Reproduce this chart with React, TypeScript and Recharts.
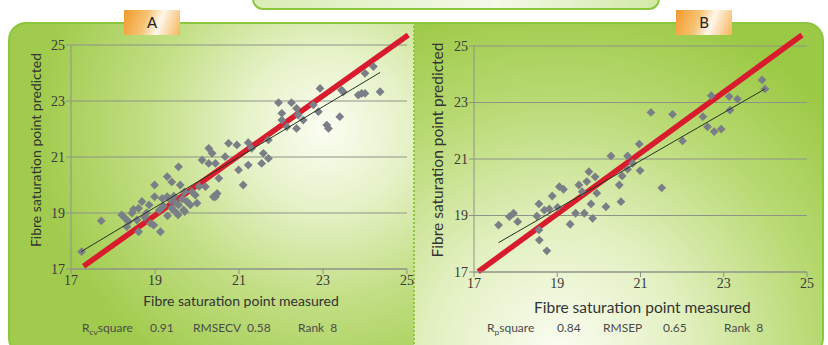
import React from 'react';
import { ReferenceLine, Scatter, ScatterChart, XAxis, YAxis, CartesianGrid } from 'recharts';

const axisTicks = [17, 19, 21, 23, 25];

// panel A: cross validation
const calMeasured = [
  17.25, 17.72, 18.21, 18.29, 18.37, 18.49, 18.57, 18.61, 18.69, 18.61, 18.89, 18.97, 18.86, 18.99, 18.99,
  19.13, 19.17, 19.29, 19.29, 19.36, 19.4, 19.4, 19.48, 19.56, 19.56, 19.6, 19.68, 19.76, 19.84, 19.88,
  19.96, 20.0, 20.12, 20.2, 20.28, 20.36, 20.28, 20.44, 20.48, 20.44, 20.52, 20.67, 20.75, 20.95, 20.99,
  21.1, 21.22, 21.54, 21.58, 21.7, 21.22, 21.3, 21.7, 21.94, 22.02, 22.02, 22.14, 22.25, 22.37, 22.37,
  22.41, 22.53, 22.77, 22.89, 22.93, 23.09, 23.13, 23.4, 23.44, 23.48, 23.84, 23.92, 24.0, 24.0, 24.2,
  24.36, 18.33, 19.55, 19.71, 20.39, 18.8, 19.2, 19.45, 19.65, 19.1, 18.75, 19.3, 19.5, 19.7, 20.05, 18.45,
];
const calPredicted = [
  17.62, 18.72, 18.93, 18.81, 18.69, 19.13, 18.75, 19.17, 19.41, 18.33, 18.63, 18.57, 19.29, 19.58, 20.0,
  18.33, 19.52, 20.3, 19.58, 19.46, 20.11, 19.17, 19.05, 19.29, 20.65, 20.0, 19.11, 19.41, 19.29, 19.76,
  19.64, 19.35, 20.89, 19.94, 21.31, 21.13, 20.77, 20.77, 19.7, 19.58, 20.24, 21.01, 21.49, 21.43, 20.54,
  20.0, 20.71, 20.77, 21.13, 20.95, 21.51, 21.31, 21.61, 22.94, 22.32, 22.56, 22.08, 22.94, 22.74, 22.02,
  22.5, 22.32, 22.86, 22.62, 23.45, 22.14, 22.02, 22.44, 23.39, 23.33, 23.21, 23.27, 23.27, 23.99, 24.23,
  23.33, 18.51, 18.93, 19.05, 19.58, 19.0, 19.25, 19.6, 19.5, 19.1, 18.85, 18.9, 19.35, 19.75, 19.95, 19.0,
];
const calTrendX = [17.24, 24.36];
const calTrendY = [17.62, 24.02];
const calTargetX = [17.3, 25.03];
const calTargetY = [17.1, 25.36];
const calStats = { r: 'cv', rValue: '0.91', errLabel: 'RMSECV', errValue: '0.58', rank: '8' };

// panel B: prediction
const valMeasured = [
  17.59, 17.85, 17.95, 18.05, 18.51, 18.56, 18.56, 18.57, 18.75, 18.69, 18.81, 18.88, 19.01, 19.05, 19.15,
  19.31, 19.44, 19.52, 19.6, 19.65, 19.71, 19.76, 19.81, 19.85, 19.91, 19.95, 20.17, 20.29, 20.49, 20.53,
  20.56, 20.69, 20.69, 20.81, 20.97, 20.99, 21.51, 21.25, 21.77, 22.01, 22.5, 22.61, 22.7, 22.77, 22.94,
  23.13, 23.15, 23.33, 23.92, 23.99,
];
const valPredicted = [
  18.66, 18.96, 19.08, 18.78, 18.98, 19.41, 18.49, 18.13, 17.75, 19.19, 19.23, 19.69, 19.29, 20.02, 19.93,
  18.69, 19.08, 20.08, 19.84, 19.08, 20.2, 20.55, 19.41, 18.9, 20.37, 19.79, 19.31, 21.11, 20.08, 19.49,
  20.4, 21.11, 20.64, 20.85, 21.53, 20.59, 19.98, 22.65, 22.58, 21.64, 22.5, 22.14, 23.24, 21.97, 22.06,
  23.21, 22.73, 23.12, 23.8, 23.48,
];
const valTrendX = [17.59, 23.99];
const valTrendY = [18.04, 23.48];
const valTargetX = [17.1, 24.88];
const valTargetY = [17.01, 25.39];
const valStats = { r: 'p', rValue: '0.84', errLabel: 'RMSEP', errValue: '0.65', rank: '8' };

const toPoints = (xs: number[], ys: number[]) => xs.map((x, i) => ({ x, y: ys[i] }));

const Diamond = (props: any) => {
  const { cx, cy } = props;
  if (cx == null || cy == null) return <g />;
  const r = 4.4;
  return <path d={`M${cx},${cy - r}L${cx + r},${cy}L${cx},${cy + r}L${cx - r},${cy}Z`} fill="#7a7f87" />;
};

const NoDot = () => <g />;

const tickStyle = { fontFamily: '"Liberation Serif", serif', fontSize: 14, fill: '#3a3a3a' };

interface PanelProps {
  left: number;
  margin: { top: number; right: number; bottom: number; left: number };
  measured: number[];
  predicted: number[];
  trendX: number[];
  trendY: number[];
  targetX: number[];
  targetY: number[];
}

const Panel = ({ left, margin, measured, predicted, trendX, trendY, targetX, targetY }: PanelProps) => (
  <div style={{ position: 'absolute', left, top: 0 }}>
    <ScatterChart width={414} height={345} margin={margin}>
      <CartesianGrid vertical={false} stroke="#8e9388" />
      <XAxis
        type="number"
        dataKey="x"
        domain={[17, 25]}
        ticks={axisTicks}
        height={36}
        tick={tickStyle}
        tickSize={5}
        tickMargin={1}
        stroke="#8e9388"
        allowDataOverflow
      />
      <YAxis
        type="number"
        dataKey="y"
        domain={[17, 25]}
        ticks={axisTicks}
        width={40}
        tick={tickStyle}
        tickSize={5}
        tickMargin={1}
        stroke="#8e9388"
        allowDataOverflow
      />
      <Scatter data={toPoints(measured, predicted)} shape={Diamond} isAnimationActive={false} />
      <Scatter
        data={toPoints(trendX, trendY)}
        line={{ stroke: '#26331f', strokeWidth: 1 }}
        shape={NoDot}
        isAnimationActive={false}
      />
      <ReferenceLine
        segment={toPoints(targetX, targetY)}
        stroke="#d81c2e"
        strokeWidth={5.5}
        ifOverflow="visible"
      />
    </ScatterChart>
  </div>
);

const sans = 'Lato, "Open Sans", sans-serif';

const Stats = ({ x, gaps, s, size }: { x: number; gaps: number[]; s: typeof calStats; size: number }) => {
  const base: React.CSSProperties = { position: 'absolute', top: 320, fontFamily: sans, fontSize: size, color: '#4b4b4b', whiteSpace: 'nowrap' };
  return (
    <>
      <div style={{ ...base, left: x }}>
        R<sub style={{ fontSize: size * 0.7 }}>{s.r}</sub>square
      </div>
      <div style={{ ...base, left: gaps[0] }}>{s.rValue}</div>
      <div style={{ ...base, left: gaps[1] }}>{s.errLabel}</div>
      <div style={{ ...base, left: gaps[2] }}>{s.errValue}</div>
      <div style={{ ...base, left: gaps[3] }}>Rank&nbsp;&nbsp;{s.rank}</div>
    </>
  );
};

const Tab = ({ left, label }: { left: number; label: string }) => (
  <div
    style={{
      position: 'absolute',
      left,
      top: 10,
      width: 56,
      height: 25,
      background: 'linear-gradient(110deg, #f19a2b 0%, #f7c273 38%, #fff7ea 62%, #f5b459 100%)',
      fontFamily: sans,
      fontSize: 15,
      color: '#222',
      textAlign: 'center',
      lineHeight: '24px',
    }}
  >
    {label}
  </div>
);

const App = () => (
  <div style={{ position: 'absolute', left: 0, top: 0, width: 828, height: 345, overflow: 'hidden', background: '#fff' }}>
    <div
      style={{
        position: 'absolute', left: 252, top: -12, width: 404, height: 18,
        border: '2px solid #8cc63f', borderRadius: 12,
        background: 'linear-gradient(to right, #d9edb4, #f4f9e8 60%, #d2e9a6)',
      }}
    />
    <div
      style={{
        position: 'absolute', left: 8, top: 22, width: 404, height: 330,
        border: '2px solid #8cc63f', borderRight: 'none', borderRadius: '18px 0 0 18px',
        background: 'radial-gradient(ellipse 72% 85% at 78% 32%, #fbfdf2 0%, #e6f2c8 28%, #c3df86 60%, #a0cb4c 100%)',
      }}
    />
    <div
      style={{
        position: 'absolute', left: 414, top: 22, width: 408, height: 330,
        border: '2px solid #8cc63f', borderLeft: 'none', borderRadius: '0 18px 18px 0',
        background: 'radial-gradient(ellipse 90% 110% at 35% 100%, #fbfdf3 0%, #e2f0c0 35%, #b9da74 70%, #9cc945 100%)',
      }}
    />
    <div style={{ position: 'absolute', left: 413, top: 22, height: 330, borderLeft: '2px dotted #8ec641' }} />
    <Panel
      left={0}
      margin={{ top: 45, right: 7, bottom: 40, left: 31 }}
      measured={calMeasured}
      predicted={calPredicted}
      trendX={calTrendX}
      trendY={calTrendY}
      targetX={calTargetX}
      targetY={calTargetY}
    />
    <Panel
      left={414}
      margin={{ top: 46, right: 21, bottom: 37, left: 20 }}
      measured={valMeasured}
      predicted={valPredicted}
      trendX={valTrendX}
      trendY={valTrendY}
      targetX={valTargetX}
      targetY={valTargetY}
    />
    <Tab left={124} label="A" />
    <Tab left={676} label="B" />
    <div style={{ position: 'absolute', left: 141, top: 292, width: 200, textAlign: 'center', fontFamily: sans, fontSize: 14, color: '#333', whiteSpace: 'nowrap' }}>
      Fibre saturation point measured
    </div>
    <div style={{ position: 'absolute', left: 534, top: 298, width: 200, textAlign: 'center', fontFamily: sans, fontSize: 15.5, color: '#333', whiteSpace: 'nowrap' }}>
      Fibre saturation point measured
    </div>
    <div style={{ position: 'absolute', left: 35, top: 150, transform: 'translate(-50%, -50%) rotate(-90deg)', fontFamily: sans, fontSize: 14, color: '#333', whiteSpace: 'nowrap' }}>
      Fibre saturation point predicted
    </div>
    <div style={{ position: 'absolute', left: 437, top: 150, transform: 'translate(-50%, -50%) rotate(-90deg)', fontFamily: sans, fontSize: 15.5, color: '#333', whiteSpace: 'nowrap' }}>
      Fibre saturation point predicted
    </div>
    <Stats x={82} gaps={[150, 193, 247, 298]} s={calStats} size={12} />
    <Stats x={487} gaps={[557, 603, 663, 724]} s={valStats} size={12} />
  </div>
);

export default App;
